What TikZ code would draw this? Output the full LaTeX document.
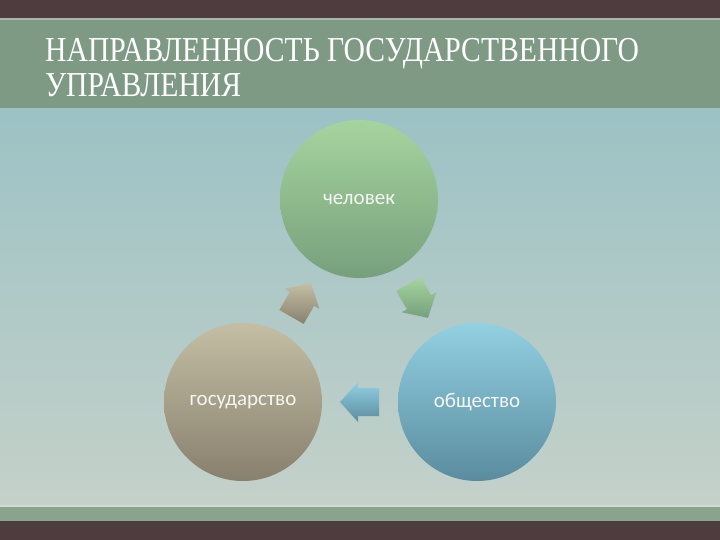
\documentclass[tikz,border=0pt]{standalone}
\usepackage{fontspec}
\setmainfont{Liberation Serif}
\newfontfamily\labelfont{Carlito}
\usetikzlibrary{calc}
\definecolor{darkband}{RGB}{78,60,62}
\definecolor{titleband}{RGB}{126,154,133}
\definecolor{bgtop}{RGB}{156,194,197}
\definecolor{bgbot}{RGB}{196,209,201}
\definecolor{greenstrip}{RGB}{138,163,140}
\definecolor{gtop}{RGB}{166,212,158}
\definecolor{gbot}{RGB}{118,160,124}
\definecolor{ttop}{RGB}{196,190,164}
\definecolor{tbot}{RGB}{136,128,110}
\definecolor{btop}{RGB}{146,208,226}
\definecolor{bbot}{RGB}{90,140,158}
\definecolor{labeltext}{RGB}{245,245,242}
\tikzset{
  bubble/.style={circle, minimum size=158pt, inner sep=0pt, shading=axis, shading angle=0,
    text=labeltext, font=\labelfont\fontsize{21}{24}\selectfont},
  titletext/.style={anchor=base west, inner sep=0pt, text=white, font=\fontsize{35}{40}\selectfont},
  pics/cycarrow/.style 2 args={code={
    \shade[top color=#1, bottom color=#2]
      (-19,-14) -- (2,-14) -- (2,-20) -- (20,0) -- (2,20) -- (2,14) -- (-19,14) -- cycle;
  }},
}
\begin{document}
\begin{tikzpicture}[x=1pt,y=-1pt]
\useasboundingbox (0,0) rectangle (720,540);
% background
\shade[top color=bgtop, bottom color=bgbot] (0,108) rectangle (720,506);
\fill[darkband] (0,0) rectangle (720,18);
\fill[titleband] (0,18) rectangle (720,108);
\fill[titleband!70!white] (0,18) rectangle (720,20);
\fill[greenstrip] (0,506) rectangle (720,521);
\fill[greenstrip!40!white] (0,505) rectangle (720,507);
\fill[darkband] (0,521) rectangle (720,540);
% title
\node[titletext] (title1) at (45,62) {\scalebox{0.847}[1]{НАПРАВЛЕННОСТЬ ГОСУДАРСТВЕННОГО}};
\node[titletext] (title2) at (45,97) {\scalebox{0.847}[1]{УПРАВЛЕНИЯ}};
% circles
\node[bubble, top color=gtop, bottom color=gbot] (person) at (359,199) {человек};
\node[bubble, top color=ttop, bottom color=tbot] (state) at (243,402) {государство};
\node[bubble, top color=btop, bottom color=bbot] (society) at (477,402) {общество};
% arrows
\coordinate (arrA) at ($(state)!0.5!(person)$);
\coordinate (arrB) at ($(person)!0.5!(society)$);
\coordinate (arrC) at ($(society)!0.5!(state)$);
\pic[rotate=60] at (arrA) {cycarrow={ttop}{tbot}};
\pic[rotate=-60] at (arrB) {cycarrow={gtop}{gbot}};
\pic[rotate=180] at (arrC) {cycarrow={btop}{bbot}};
\end{tikzpicture}
\end{document}
